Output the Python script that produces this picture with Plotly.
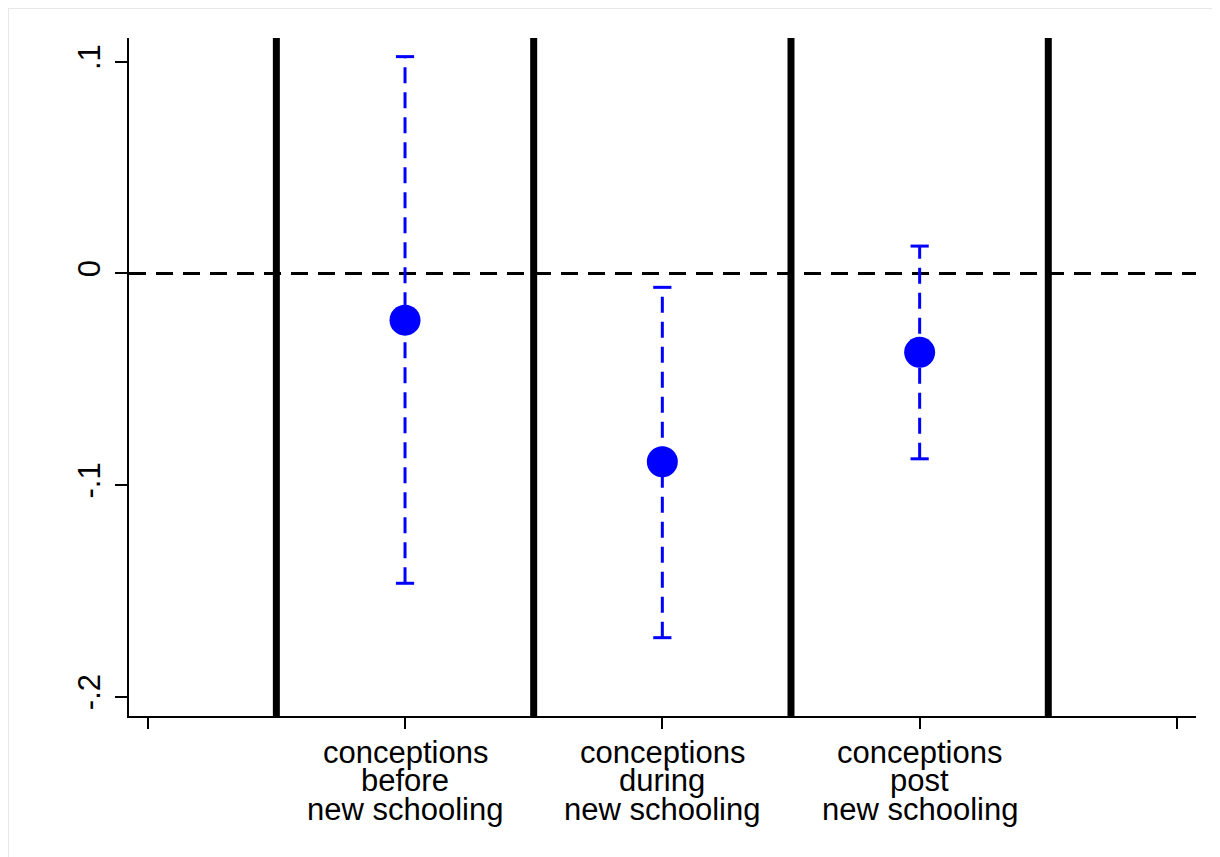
import plotly.graph_objects as go

# ---- data ----
positions = [1, 2, 3]
category_line1 = ["conceptions", "conceptions", "conceptions"]
category_line2 = ["before", "during", "post"]
category_line3 = ["new schooling", "new schooling", "new schooling"]
estimates = [-0.0221, -0.0890, -0.0373]
ci_low = [-0.1464, -0.1721, -0.0876]
ci_high = [0.1024, -0.0066, 0.0129]
separators = [0.5, 1.5, 2.5, 3.5]
x_ticks = [0, 1, 2, 3, 4]
y_ticks = [-0.2, -0.1, 0, 0.1]
y_ticklabels = ["-.2", "-.1", "0", ".1"]

BLUE = "#0000FF"
FONT = "Liberation Sans, Arial, sans-serif"
FS = 31

W, H = 1220, 857
ML, MR, MT, MB = 121, 32, 30, 149

fig = go.Figure()

# separator vertical lines
for s in separators:
    fig.add_shape(type="line", xref="x", yref="paper", x0=s, x1=s, y0=0, y1=1,
                  line=dict(color="black", width=7), layer="above")

# zero reference line
fig.add_shape(type="line", xref="paper", yref="y", x0=0, x1=1, y0=0, y1=0,
              line=dict(color="black", width=3, dash="17px,10px"), layer="below")

# CI dashed lines
cx, cy = [], []
for p, lo, hi in zip(positions, ci_low, ci_high):
    cx += [p, p, None]
    cy += [lo, hi, None]
fig.add_trace(go.Scatter(x=cx, y=cy, mode="lines",
                         line=dict(color=BLUE, width=3, dash="16px,9px"),
                         hoverinfo="skip", showlegend=False))

# caps
fig.add_trace(go.Scatter(x=positions + positions, y=ci_low + ci_high, mode="markers",
                         marker=dict(symbol="line-ew", size=13,
                                     line=dict(color=BLUE, width=3)),
                         hoverinfo="skip", showlegend=False))

# point estimates
fig.add_trace(go.Scatter(x=positions, y=estimates, mode="markers",
                         marker=dict(symbol="circle", size=31, color=BLUE,
                                     line=dict(width=0)),
                         showlegend=False))

# category labels (three lines, tight spacing)
for p, l1, l2, l3 in zip(positions, category_line1, category_line2, category_line3):
    for k, txt in enumerate([l1, l2, l3]):
        fig.add_annotation(x=p, xref="x", y=0, yref="paper", text=txt,
                           showarrow=False, xanchor="center", yanchor="middle",
                           yshift=-36 - 28.5 * k,
                           font=dict(family=FONT, size=FS, color="black"))

fig.update_layout(
    width=W, height=H,
    margin=dict(l=ML, r=MR, t=MT, b=MB),
    paper_bgcolor="white", plot_bgcolor="white",
    font=dict(family=FONT, size=FS, color="black"),
    xaxis=dict(range=[-0.0727, 4.074], tickvals=x_ticks, ticktext=[""] * len(x_ticks),
               ticks="outside", ticklen=11, tickwidth=1.5, tickcolor="black",
               showline=True, linecolor="black", linewidth=1.5,
               showgrid=False, zeroline=False),
    yaxis=dict(range=[-0.2091, 0.1112], tickvals=y_ticks, ticktext=y_ticklabels,
               tickangle=-90, ticks="outside", ticklen=12, tickwidth=1.5,
               tickcolor="black", tickfont=dict(size=FS, family=FONT),
               ticklabelstandoff=3,
               showline=True, linecolor="black", linewidth=1.5,
               showgrid=False, zeroline=False),
)

# faint outer frame lines (top and left edges)
plot_w = W - ML - MR
plot_h = H - MT - MB
def px_x(px):
    return (px - ML) / plot_w
def px_y(py):
    return (H - MB - py) / plot_h
fig.add_shape(type="line", xref="paper", yref="paper",
              x0=px_x(0), x1=px_x(W), y0=px_y(0.5), y1=px_y(0.5),
              line=dict(color="#e8e8e8", width=1))
fig.add_shape(type="line", xref="paper", yref="paper",
              x0=px_x(0.5), x1=px_x(0.5), y0=px_y(0), y1=px_y(H),
              line=dict(color="#e8e8e8", width=1))

fig.write_html("out.html")
